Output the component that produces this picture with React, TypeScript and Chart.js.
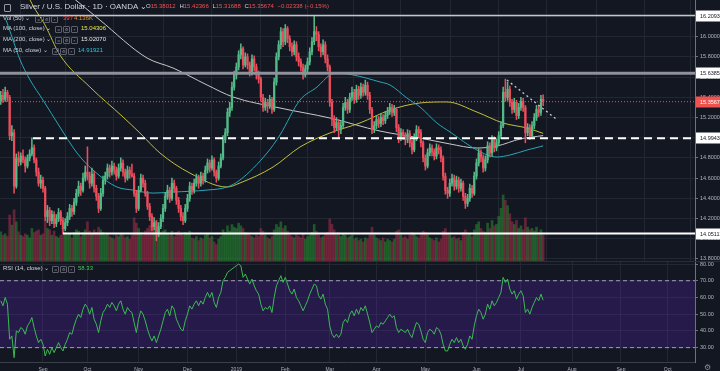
import React, { useEffect, useRef } from 'react';
import { Chart, registerables } from 'chart.js';

Chart.register(...registerables);

// ---------------- data ----------------
// daily candles [open, high, low, close], Aug 2018 .. mid Jul 2019
const ohlc: [number, number, number, number][] = [
  [15.36,15.46,15.33,15.42],[15.42,15.48,15.35,15.38],[15.38,15.50,15.36,15.45],[15.45,15.47,15.36,15.40],[15.40,15.42,14.98,15.02],
  [15.02,15.12,14.97,15.05],[15.05,15.08,14.45,14.52],[14.52,14.84,14.50,14.80],[14.80,14.86,14.72,14.76],[14.76,14.85,14.73,14.82],
  [14.82,14.88,14.75,14.78],[14.78,14.81,14.66,14.72],[14.72,14.83,14.70,14.80],[14.80,14.88,14.77,14.84],[14.84,15.00,14.82,14.90],
  [14.90,14.93,14.75,14.78],[14.78,14.80,14.62,14.66],[14.66,14.70,14.52,14.55],[14.55,14.63,14.50,14.58],[14.58,14.61,14.46,14.50],
  [14.50,14.52,14.18,14.22],[14.22,14.33,14.16,14.28],[14.28,14.31,14.13,14.18],[14.18,14.28,14.15,14.24],[14.24,14.27,14.11,14.15],
  [14.15,14.24,14.12,14.20],[14.20,14.30,14.17,14.26],[14.26,14.28,14.14,14.18],[14.18,14.21,14.05,14.10],[14.10,14.20,14.08,14.16],
  [14.16,14.26,14.13,14.22],[14.22,14.34,14.19,14.30],[14.30,14.33,14.22,14.27],[14.27,14.40,14.24,14.36],[14.36,14.49,14.33,14.45],
  [14.45,14.57,14.42,14.52],[14.52,14.55,14.43,14.48],[14.48,14.65,14.46,14.60],[14.60,14.72,14.57,14.66],[14.66,14.91,14.58,14.62],
  [14.62,14.66,14.50,14.55],[14.55,14.70,14.52,14.64],[14.64,14.67,14.46,14.50],[14.50,14.53,14.38,14.42],[14.42,14.45,14.26,14.30],
  [14.30,14.50,14.28,14.45],[14.45,14.62,14.42,14.58],[14.58,14.66,14.54,14.62],[14.62,14.74,14.59,14.70],[14.70,14.73,14.61,14.66],
  [14.66,14.77,14.63,14.72],[14.72,14.75,14.64,14.68],[14.68,14.71,14.58,14.62],[14.62,14.74,14.60,14.70],[14.70,14.80,14.67,14.75],
  [14.75,14.78,14.62,14.66],[14.66,14.69,14.56,14.60],[14.60,14.72,14.58,14.68],[14.68,14.71,14.60,14.64],[14.64,14.74,14.61,14.62],
  [14.62,14.65,14.42,14.45],[14.45,14.48,14.26,14.30],[14.30,14.52,14.28,14.48],[14.48,14.64,14.46,14.60],[14.60,14.63,14.51,14.55],
  [14.55,14.58,14.42,14.45],[14.45,14.47,14.29,14.32],[14.32,14.35,14.18,14.22],[14.22,14.25,14.08,14.12],[14.12,14.21,14.09,14.16],
  [14.16,14.18,13.98,14.05],[14.05,14.16,14.02,14.12],[14.12,14.24,14.10,14.20],[14.20,14.34,14.17,14.30],[14.30,14.46,14.27,14.42],
  [14.42,14.53,14.39,14.48],[14.48,14.51,14.36,14.40],[14.40,14.60,14.38,14.55],[14.55,14.58,14.46,14.50],[14.50,14.52,14.34,14.38],
  [14.38,14.41,14.26,14.30],[14.30,14.33,14.18,14.22],[14.22,14.26,14.14,14.18],[14.18,14.34,14.16,14.30],[14.30,14.44,14.27,14.40],
  [14.40,14.56,14.37,14.52],[14.52,14.55,14.44,14.48],[14.48,14.59,14.45,14.55],[14.55,14.64,14.52,14.60],[14.60,14.63,14.50,14.55],
  [14.55,14.66,14.52,14.62],[14.62,14.65,14.54,14.58],[14.58,14.72,14.56,14.68],[14.68,14.79,14.65,14.75],[14.75,14.78,14.66,14.70],
  [14.70,14.82,14.68,14.78],[14.78,14.80,14.62,14.66],[14.66,14.68,14.56,14.60],[14.60,14.76,14.58,14.72],[14.72,14.84,14.70,14.80],
  [14.80,15.02,14.78,14.98],[14.98,15.09,14.95,15.05],[15.05,15.29,15.02,15.25],[15.25,15.35,15.21,15.30],[15.30,15.55,15.27,15.50],
  [15.50,15.66,15.47,15.62],[15.62,15.74,15.58,15.70],[15.70,15.86,15.67,15.82],[15.82,15.93,15.78,15.88],[15.88,15.90,15.68,15.72],
  [15.72,15.84,15.70,15.80],[15.80,15.83,15.68,15.72],[15.72,15.75,15.61,15.65],[15.65,15.82,15.62,15.78],[15.78,15.81,15.66,15.70],
  [15.70,15.73,15.58,15.62],[15.62,15.66,15.54,15.58],[15.58,15.60,15.36,15.40],[15.40,15.43,15.26,15.30],[15.30,15.39,15.27,15.35],
  [15.35,15.38,15.25,15.32],[15.32,15.42,15.29,15.38],[15.38,15.40,15.24,15.28],[15.28,15.59,15.26,15.55],[15.55,15.84,15.52,15.80],
  [15.80,15.96,15.77,15.92],[15.92,16.09,15.88,16.05],[16.05,16.08,15.90,15.95],[15.95,16.12,15.92,16.08],[16.08,16.10,15.94,15.98],
  [15.98,16.01,15.86,15.90],[15.90,15.94,15.81,15.85],[15.85,15.96,15.82,15.92],[15.92,15.95,15.76,15.80],[15.80,15.84,15.71,15.75],
  [15.75,15.78,15.66,15.70],[15.70,15.73,15.58,15.62],[15.62,15.72,15.60,15.68],[15.68,15.79,15.65,15.75],[15.75,15.89,15.72,15.85],
  [15.85,15.99,15.82,15.95],[15.95,16.21,15.92,16.05],[16.05,16.10,15.96,16.02],[16.02,16.05,15.86,15.90],[15.90,15.93,15.80,15.85],
  [15.85,15.97,15.82,15.92],[15.92,15.95,15.74,15.78],[15.78,15.82,15.66,15.70],[15.70,15.72,15.31,15.35],[15.35,15.38,15.12,15.18],
  [15.18,15.22,15.05,15.10],[15.10,15.20,15.07,15.15],[15.15,15.18,15.00,15.08],[15.08,15.16,15.04,15.12],[15.12,15.34,15.10,15.30],
  [15.30,15.40,15.27,15.35],[15.35,15.38,15.24,15.28],[15.28,15.44,15.25,15.40],[15.40,15.50,15.37,15.45],[15.45,15.48,15.34,15.38],
  [15.38,15.52,15.35,15.48],[15.48,15.51,15.38,15.42],[15.42,15.54,15.39,15.50],[15.50,15.53,15.41,15.45],[15.45,15.57,15.42,15.52],
  [15.52,15.55,15.38,15.42],[15.42,15.45,15.24,15.28],[15.28,15.30,15.04,15.08],[15.08,15.16,15.05,15.12],[15.12,15.22,15.09,15.18],
  [15.18,15.21,15.10,15.14],[15.14,15.24,15.11,15.20],[15.20,15.23,15.13,15.17],[15.17,15.26,15.14,15.22],[15.22,15.30,15.19,15.26],
  [15.26,15.34,15.23,15.30],[15.30,15.33,15.21,15.25],[15.25,15.32,15.22,15.28],[15.28,15.30,15.06,15.10],[15.10,15.13,14.95,15.00],
  [15.00,15.09,14.97,15.05],[15.05,15.08,14.98,15.02],[15.02,15.05,14.93,14.98],[14.98,15.08,14.95,15.04],[15.04,15.07,14.91,14.95],
  [14.95,14.98,14.84,14.88],[14.88,15.04,14.86,15.00],[15.00,15.12,14.97,15.08],[15.08,15.11,15.01,15.05],[15.05,15.08,14.91,14.95],
  [14.95,14.97,14.76,14.80],[14.80,14.83,14.68,14.72],[14.72,14.89,14.70,14.85],[14.85,14.94,14.82,14.90],[14.90,14.93,14.82,14.86],
  [14.86,14.89,14.78,14.82],[14.82,14.94,14.79,14.90],[14.90,14.93,14.84,14.88],[14.88,14.91,14.76,14.80],[14.80,14.82,14.58,14.62],
  [14.62,14.65,14.44,14.48],[14.48,14.51,14.40,14.45],[14.45,14.59,14.42,14.55],[14.55,14.64,14.52,14.60],[14.60,14.63,14.48,14.52],
  [14.52,14.62,14.49,14.58],[14.58,14.61,14.46,14.50],[14.50,14.59,14.47,14.55],[14.55,14.57,14.38,14.42],[14.42,14.45,14.30,14.35],
  [14.35,14.44,14.32,14.40],[14.40,14.54,14.37,14.50],[14.50,14.53,14.41,14.45],[14.45,14.66,14.43,14.62],[14.62,14.79,14.59,14.75],
  [14.75,14.89,14.72,14.85],[14.85,14.88,14.76,14.80],[14.80,14.83,14.66,14.70],[14.70,14.82,14.67,14.78],[14.78,14.96,14.75,14.92],
  [14.92,14.95,14.81,14.85],[14.85,15.02,14.82,14.98],[14.98,15.01,14.86,14.90],[14.90,14.99,14.87,14.95],[14.95,15.06,14.92,15.02],
  [15.02,15.16,14.99,15.12],[15.12,15.50,15.10,15.45],[15.45,15.58,15.36,15.40],[15.40,15.55,15.37,15.48],[15.48,15.51,15.31,15.35],
  [15.35,15.38,15.24,15.28],[15.28,15.39,15.25,15.35],[15.35,15.37,15.18,15.22],[15.22,15.34,15.19,15.30],[15.30,15.40,15.27,15.36],
  [15.36,15.39,15.26,15.30],[15.30,15.32,14.95,15.05],[15.05,15.14,15.02,15.10],[15.10,15.13,14.98,15.02],[15.02,15.16,15.00,15.12],
  [15.12,15.24,15.09,15.20],[15.20,15.32,15.17,15.28],[15.28,15.31,15.21,15.25],[15.25,15.42,15.22,15.38],[15.38012,15.42366,15.31688,15.35674],
];

const volumes: number[] = [
  45,40,42,38,70,55,78,60,45,40, 38,42,40,36,50,44,46,48,40,42,
  62,50,48,40,46,38,36,40,52,44, 40,42,36,44,48,46,38,44,48,60,
  46,42,48,44,52,48,44,40,42,38, 36,34,40,38,42,40,36,38,34,40,
  66,58,50,44,40,46,50,54,58,48, 62,50,44,46,48,42,40,46,38,44,
  46,42,40,44,42,46,36,34,38,32, 36,34,40,42,36,38,30,26,34,38,
  48,44,54,46,56,52,50,58,54,50, 44,42,40,38,36,40,38,50,46,40,
  36,34,38,48,56,52,60,50,54,46, 40,38,36,40,38,36,42,34,38,40,
  44,56,46,40,36,38,42,44,64,56, 48,40,44,38,42,40,36,38,40,34,
  36,32,34,30,36,34,40,52,40,36, 34,32,36,30,34,32,30,34,46,48,
  40,36,38,34,40,44,42,38,36,40, 46,44,40,36,34,32,36,30,34,46,
  50,42,40,36,38,34,36,32,44,48, 40,42,38,48,56,60,50,46,44,58,
  50,62,54,56,68,80,100,92,84,72, 60,56,62,50,54,48,66,52,48,50,
  46,52,44,48,40,
];

const rsiValues: number[] = [
  58,55,60,56,35,37,24,40,39,42, 41,38,43,45,48,42,37,33,35,32,
  25,29,26,30,27,30,33,30,28,32, 35,39,38,43,47,50,48,53,56,54,
  50,54,47,44,39,46,51,53,56,54, 57,55,52,56,58,53,50,54,52,51,
  45,39,47,52,50,46,41,37,34,37, 33,37,41,46,51,53,49,55,53,47,
  44,41,40,46,50,55,53,56,58,55, 58,56,60,63,60,63,57,54,60,63,
  70,72,75,76,77,78,79,80,79,72, 74,71,68,71,67,64,62,56,52,54,
  53,55,51,60,67,70,73,69,72,68, 64,62,65,60,58,55,52,55,58,62,
  65,68,67,61,59,62,56,53,43,38, 36,38,36,38,45,47,45,50,52,49,
  53,50,54,52,55,50,45,39,41,43, 42,45,44,46,48,50,48,49,42,39,
  41,40,39,41,38,36,41,45,44,40, 35,33,39,41,40,38,42,41,38,32,
  28,28,32,35,33,36,33,35,31,29, 32,37,35,43,49,53,51,47,50,56,
  53,58,55,57,60,63,72,69,71,65, 62,64,59,62,64,61,51,53,50,54,
  57,60,58,62,58.33,
];

// moving averages sampled along the bar index: [barIndex, price]
const ma50: [number, number][] = [
  [2.4,16.165],[5.5,15.967],[8.7,15.769],[13.2,15.571],[19.0,15.373],[26.6,15.106],[34.3,14.849],[41.5,14.680],
  [52.3,14.512],[59.5,14.482],[68.5,14.452],[77.5,14.462],[92.8,14.482],[101.8,14.512],[107.6,14.581],[119.8,14.849],
  [125.6,15.027],[134.6,15.373],[142.3,15.502],[148.1,15.621],[151.3,15.641],[158.5,15.621],[170.6,15.552],[175.1,15.522],
  [182.7,15.393],[188.6,15.304],[196.2,15.146],[202.1,15.057],[214.2,14.878],[223.2,14.809],[229.1,14.829],[236.7,14.878],
  [244,14.919],
];
const ma100: [number, number][] = [
  [10,16.55],[13.2,16.363],[19.9,16.116],[26.6,15.819],[40.1,15.502],[55.0,15.205],[62.6,15.047],[71.6,14.849],
  [85.1,14.650],[101.8,14.512],[107.6,14.552],[122.5,14.710],[134.6,14.908],[148.1,15.047],[161.6,15.146],[175.1,15.274],
  [188.6,15.344],[200.7,15.354],[214.2,15.254],[225.9,15.146],[236.7,15.096],[244,15.043],
];
const ma200: [number, number][] = [
  [20,16.60],[31.1,16.41],[44.6,16.165],[65.8,15.789],[77.5,15.690],[92.8,15.522],[104.5,15.403],[125.6,15.294],
  [148.1,15.195],[170.6,15.066],[188.6,14.997],[202.1,14.938],[214.2,14.898],[223.2,14.918],[233.6,14.987],[244,15.021],
];

const monthTicks = [19, 39, 62, 84, 106, 128, 148, 169, 191, 214, 234, 257, 279, 300];
const monthLabels = ['Sep', 'Oct', 'Nov', 'Dec', '2019', 'Feb', 'Mar', 'Apr', 'May', 'Jun', 'Jul', 'Aug', 'Sep', 'Oct'];
const priceTicks = [13.8, 14.0, 14.2, 14.4, 14.6, 14.8, 15.0, 15.2, 15.4, 15.6, 15.8, 16.0, 16.2];
const rsiTicks = [30, 40, 50, 60, 70, 80];

const levelTop = 16.2093;
const levelResist = 15.63851;
const levelLast = 15.35674;
const levelSupport = 14.99439;
const levelLow = 14.05117;
const supportStart = 14.5;
const lowStart = 28;
const trendLine: [number, number][] = [[227.7, 15.571], [249.8, 15.185]];

// ---------------- styling ----------------
const FONT = '"Liberation Sans", Arial, sans-serif';
const BG = '#131722';
const GRID = '#232733';
const AXIS = '#6f727c';
const TXT = '#b2b5be';
const UP = '#53b987';
const DOWN = '#eb4d5c';
const X_MIN = -0.34;
const X_MAX = 312.3;

const noPad = (s: any) => {
  s.paddingTop = 0;
  s.paddingBottom = 0;
  s.paddingLeft = 0;
  s.paddingRight = 0;
};

const xScale = (labels: boolean): any => ({
  type: 'linear',
  min: X_MIN,
  max: X_MAX,
  offset: false,
  afterBuildTicks: (s: any) => { s.ticks = monthTicks.map((v) => ({ value: v })); },
  ticks: {
    display: labels,
    autoSkip: false,
    maxRotation: 0,
    padding: 5,
    color: TXT,
    font: { size: 5, family: FONT },
    callback: (_v: any, i: number) => monthLabels[i] ?? '',
  },
  grid: { color: GRID, drawTicks: false },
  border: { display: false },
  afterFit: (s: any) => { s.height = labels ? 9 : 0; noPad(s); },
});

function hLine(ctx: CanvasRenderingContext2D, x0: number, x1: number, y: number, color: string, w: number, dash: number[] = []) {
  ctx.save();
  ctx.strokeStyle = color;
  ctx.lineWidth = w;
  ctx.setLineDash(dash);
  ctx.beginPath();
  ctx.moveTo(x0, y);
  ctx.lineTo(x1, y);
  ctx.stroke();
  ctx.restore();
}

function priceBox(ctx: CanvasRenderingContext2D, left: number, y: number, text: string, bg: string, fg: string) {
  ctx.save();
  ctx.fillStyle = bg;
  ctx.fillRect(left, Math.round(y) - 5.5, 30, 11);
  ctx.fillStyle = fg;
  ctx.font = `5.5px ${FONT}`;
  ctx.textBaseline = 'middle';
  ctx.textAlign = 'left';
  ctx.fillText(text, left + 4, Math.round(y) + 0.5);
  ctx.restore();
}

const mainOverlay = {
  id: 'mainOverlay',
  afterDatasetsDraw(chart: any) {
    const { ctx, chartArea: a, scales } = chart;
    const x = scales.x;
    const y = scales.y;
    ctx.save();
    ctx.beginPath();
    ctx.rect(a.left, a.top, a.right - a.left, a.bottom - a.top);
    ctx.clip();
    hLine(ctx, a.left, a.right, y.getPixelForValue(levelTop), '#c4c6cc', 1.5);
    hLine(ctx, a.left, a.right, y.getPixelForValue(levelResist), '#8f929b', 3);
    hLine(ctx, a.left, a.right, y.getPixelForValue(levelLast), '#ef5350', 1, [1, 2]);
    hLine(ctx, x.getPixelForValue(supportStart), a.right, y.getPixelForValue(levelSupport), '#ffffff', 2, [8, 5]);
    hLine(ctx, x.getPixelForValue(lowStart), a.right, y.getPixelForValue(levelLow), '#ffffff', 2);
    ctx.strokeStyle = '#c8cad0';
    ctx.lineWidth = 1.3;
    ctx.setLineDash([2, 3]);
    ctx.beginPath();
    ctx.moveTo(x.getPixelForValue(trendLine[0][0]), y.getPixelForValue(trendLine[0][1]));
    ctx.lineTo(x.getPixelForValue(trendLine[1][0]), y.getPixelForValue(trendLine[1][1]));
    ctx.stroke();
    ctx.restore();
  },
  afterDraw(chart: any) {
    const { ctx, chartArea: a, scales } = chart;
    const y = scales.y;
    const L = a.right + 1;
    priceBox(ctx, L, y.getPixelForValue(levelTop), levelTop.toFixed(5), '#ffffff', '#131722');
    priceBox(ctx, L, y.getPixelForValue(levelResist), levelResist.toFixed(5), '#ffffff', '#131722');
    priceBox(ctx, L, y.getPixelForValue(levelSupport), levelSupport.toFixed(5), '#ffffff', '#131722');
    priceBox(ctx, L, y.getPixelForValue(levelLow), levelLow.toFixed(5), '#ffffff', '#131722');
    priceBox(ctx, L, y.getPixelForValue(levelLast), levelLast.toFixed(5), '#ef5350', '#ffffff');
    hLine(ctx, 0, 720, a.bottom - 0.5, '#2a2e39', 1);
  },
};

const rsiOverlay = {
  id: 'rsiOverlay',
  beforeDatasetsDraw(chart: any) {
    const { ctx, chartArea: a, scales } = chart;
    const y = scales.y;
    const y70 = y.getPixelForValue(70);
    const y30 = y.getPixelForValue(30);
    ctx.save();
    ctx.fillStyle = 'rgba(85, 35, 175, 0.28)';
    ctx.fillRect(a.left, y70, a.right - a.left, y30 - y70);
    hLine(ctx, a.left, a.right, y70, '#a59bc8', 1, [4, 3]);
    hLine(ctx, a.left, a.right, y30, '#a59bc8', 1, [4, 3]);
    ctx.restore();
  },
  afterDraw(chart: any) {
    const { ctx, chartArea: a } = chart;
    hLine(ctx, 0, a.right, a.bottom + 0.5, '#3a3e4a', 1);
    ctx.save();
    ctx.fillStyle = '#8a8d96';
    ctx.font = `8px "DejaVu Sans", sans-serif`;
    ctx.textBaseline = 'top';
    ctx.fillText('⚙', 704, a.bottom + 2);
    ctx.restore();
  },
};

const iconStyle: React.CSSProperties = {
  display: 'inline-block',
  width: 5,
  height: 5,
  border: '1px solid #5d606b',
  borderRadius: 1,
  color: '#9598a1',
  fontSize: 4,
  lineHeight: '5px',
  textAlign: 'center',
  marginRight: 1,
  overflow: 'hidden',
};

function Icons({ x, yc }: { x: number; yc: number }) {
  return (
    <div style={{ position: 'absolute', left: x, top: yc - 3.5, display: 'flex' }}>
      <span style={iconStyle}>o</span>
      <span style={iconStyle}>⚙</span>
      <span style={iconStyle}>×</span>
    </div>
  );
}

function Txt({ x, yc, size, color, children }: { x: number; yc: number; size: number; color: string; children: React.ReactNode }) {
  return (
    <div style={{ position: 'absolute', left: x, top: yc - size * 0.6, fontSize: size, lineHeight: `${size * 1.2}px`, color, whiteSpace: 'nowrap' }}>
      {children}
    </div>
  );
}

export default function App() {
  const mainRef = useRef<HTMLCanvasElement>(null);
  const rsiRef = useRef<HTMLCanvasElement>(null);

  useEffect(() => {
    const idx = ohlc.map((_, i) => i);
    const colors = ohlc.map(([o, , , c]) => (c >= o ? UP : DOWN));
    const volColors = ohlc.map(([o, , , c]) => (c >= o ? 'rgba(40,140,50,0.55)' : 'rgba(170,45,75,0.55)'));

    const main = new Chart(mainRef.current as HTMLCanvasElement, {
      type: 'bar',
      data: {
        datasets: [
          {
            type: 'bar',
            data: volumes.map((v, i) => ({ x: i, y: v })) as any,
            backgroundColor: volColors,
            barThickness: 2,
            grouped: false,
            yAxisID: 'yv',
            order: 10,
          } as any,
          {
            type: 'line',
            data: ma200.map(([x, y]) => ({ x, y })),
            borderColor: '#c9c9c9',
            borderWidth: 1,
            pointRadius: 0,
            cubicInterpolationMode: 'monotone',
            yAxisID: 'y',
            order: 6,
          },
          {
            type: 'line',
            data: ma100.map(([x, y]) => ({ x, y })),
            borderColor: '#c2c23c',
            borderWidth: 1,
            pointRadius: 0,
            cubicInterpolationMode: 'monotone',
            yAxisID: 'y',
            order: 5,
          },
          {
            type: 'line',
            data: ma50.map(([x, y]) => ({ x, y })),
            borderColor: '#2aa7b8',
            borderWidth: 1,
            pointRadius: 0,
            cubicInterpolationMode: 'monotone',
            yAxisID: 'y',
            order: 4,
          },
          {
            type: 'bar',
            data: idx.map((i) => ({ x: i, y: [ohlc[i][2], ohlc[i][1]] })) as any,
            backgroundColor: colors,
            barThickness: 0.9,
            grouped: false,
            yAxisID: 'y',
            order: 2,
          } as any,
          {
            type: 'bar',
            data: idx.map((i) => ({ x: i, y: [ohlc[i][0], ohlc[i][3]] })) as any,
            backgroundColor: colors,
            barThickness: 1.6,
            minBarLength: 1,
            grouped: false,
            yAxisID: 'y',
            order: 1,
          } as any,
        ],
      },
      options: {
        animation: false,
        responsive: false,
        devicePixelRatio: 1,
        events: [],
        layout: { padding: 0 },
        plugins: { legend: { display: false }, tooltip: { enabled: false } },
        scales: {
          x: xScale(false),
          y: {
            type: 'linear',
            position: 'right',
            min: 13.77,
            max: 16.363,
            afterBuildTicks: (s: any) => { s.ticks = priceTicks.map((v) => ({ value: v })); },
            ticks: { color: TXT, padding: 2, font: { size: 5.5, family: FONT }, callback: (v: any) => Number(v).toFixed(5) },
            grid: { color: GRID, tickLength: 3, tickColor: AXIS },
            border: { color: AXIS },
            afterFit: (s: any) => { s.width = 25; noPad(s); },
          } as any,
          yv: { type: 'linear', display: false, min: 0, max: 391 },
        },
      },
      plugins: [mainOverlay],
    });

    const rsi = new Chart(rsiRef.current as HTMLCanvasElement, {
      type: 'line',
      data: {
        datasets: [
          {
            data: rsiValues.map((v, i) => ({ x: i, y: v })),
            borderColor: '#3cba54',
            borderWidth: 1,
            pointRadius: 0,
            tension: 0,
          },
        ],
      },
      options: {
        animation: false,
        responsive: false,
        devicePixelRatio: 1,
        events: [],
        layout: { padding: 0 },
        plugins: { legend: { display: false }, tooltip: { enabled: false } },
        scales: {
          x: xScale(true),
          y: {
            type: 'linear',
            position: 'right',
            min: 21.4,
            max: 81.2,
            afterBuildTicks: (s: any) => { s.ticks = rsiTicks.map((v) => ({ value: v })); },
            ticks: { color: TXT, padding: 2, font: { size: 5.5, family: FONT }, callback: (v: any) => Number(v).toFixed(2) },
            grid: { color: GRID, tickLength: 3, tickColor: AXIS },
            border: { color: AXIS },
            afterFit: (s: any) => { s.width = 25; noPad(s); },
          } as any,
        },
      },
      plugins: [rsiOverlay],
    });

    return () => {
      main.destroy();
      rsi.destroy();
    };
  }, []);

  const light = '#d1d4dc';
  const red = '#ef5350';
  return (
    <div style={{ position: 'fixed', left: 0, top: 0, width: 720, height: 371, background: BG, overflow: 'hidden', fontFamily: FONT }}>
      <canvas ref={mainRef} width={720} height={262} style={{ position: 'absolute', left: 0, top: 0 }} />
      <canvas ref={rsiRef} width={720} height={109} style={{ position: 'absolute', left: 0, top: 262 }} />

      <div style={{ position: 'absolute', left: 4, top: 4, width: 5, height: 6, border: '1px solid #9598a1', borderRadius: 1 }} />
      <Txt x={20} yc={7} size={8} color={light}>Silver / U.S. Dollar · 1D · OANDA ⌄</Txt>
      <Txt x={146} yc={7} size={6} color={red}>
        <span style={{ color: light }}>O</span>15.38012{'  '}
        <span style={{ color: light, marginLeft: 2 }}>H</span>15.42366{'  '}
        <span style={{ color: light, marginLeft: 2 }}>L</span>15.31688{'  '}
        <span style={{ color: light, marginLeft: 2 }}>C</span>15.35674{'  '}
        <span style={{ marginLeft: 2 }}>−0.02338 (−0.15%)</span>
      </Txt>

      <Txt x={3} yc={19} size={6} color={light}>Vol (50) ⌄</Txt>
      <Icons x={35} yc={19} />
      <Txt x={63} yc={19} size={6} color={red}>397</Txt>
      <Txt x={74} yc={19} size={6} color="#e0913c">4.136K</Txt>

      <Txt x={3} yc={29} size={6} color={light}>MA (100, close) ⌄</Txt>
      <Icons x={55} yc={29} />
      <Txt x={81} yc={29} size={6} color="#e8e84a">15.04306</Txt>

      <Txt x={3} yc={40} size={6} color={light}>MA (200, close) ⌄</Txt>
      <Icons x={55} yc={40} />
      <Txt x={81} yc={40} size={6} color="#e6e6e6">15.02070</Txt>

      <Txt x={3} yc={51} size={6} color={light}>MA (50, close) ⌄</Txt>
      <Icons x={52} yc={51} />
      <Txt x={78} yc={51} size={6} color="#26c6da">14.91921</Txt>

      <Txt x={3} yc={269} size={6} color={light}>RSI (14, close) ⌄</Txt>
      <Icons x={52} yc={269} />
      <Txt x={78} yc={269} size={6} color="#3cd050">58.33</Txt>
    </div>
  );
}
